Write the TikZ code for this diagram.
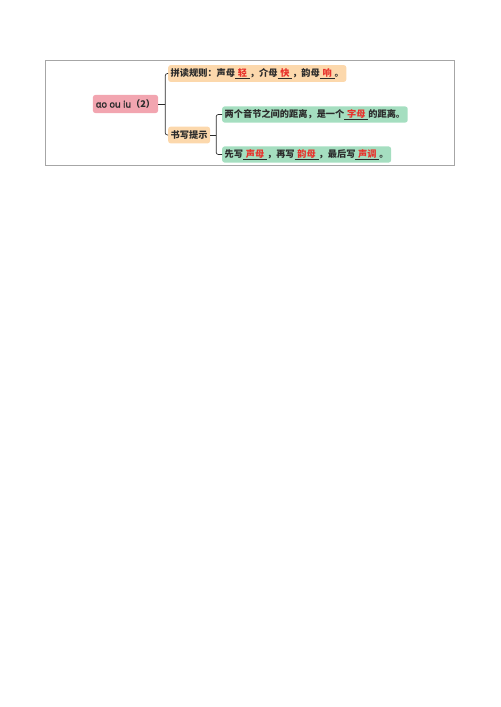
\documentclass[tikz,border=0pt]{standalone}
\usepackage{fontspec}
\usepackage{xcolor}
\usetikzlibrary{positioning}
\setmainfont{Noto Sans CJK SC}
\newfontfamily\latinfont{Noto Sans}[FakeBold=2]
\definecolor{rootpink}{HTML}{F2A5B0}
\definecolor{ruleorange}{HTML}{FCD8AC}
\definecolor{tipgreen}{HTML}{A5DEC0}
\definecolor{fillred}{HTML}{E8312B}
\definecolor{inkgray}{HTML}{2B2B2B}
\newcommand{\fillin}[1]{\underline{\hspace{0.3em}\textcolor{fillred}{#1}\hspace{0.3em}}}

\begin{document}
\begin{tikzpicture}[x=1.19bp, y=-1.19bp,
    every node/.style={font=\fontsize{11}{13}\selectfont\bfseries, text=inkgray},
    rootbox/.style={fill=rootpink, rounded corners=3bp, inner xsep=3.5bp, minimum height=21.5bp},
    rulebox/.style={fill=ruleorange, rounded corners=3bp, inner xsep=3bp, minimum height=20bp, anchor=west},
    tipbox/.style={fill=tipgreen, rounded corners=3bp, inner xsep=3bp, minimum height=18bp, anchor=west},
    link/.style={draw=inkgray, line width=0.8bp, rounded corners=2.5bp}]
        \useasboundingbox (0,0) rectangle (500,707);
        \draw[gray!70, line width=0.8bp] (45,60) rectangle (454,165);

        \node[rootbox]            (root)  at (125.5,104) {{\latinfont\bfseries ɑo ou iu}（2）};
        \node[rulebox]            (rules) at (168,73.5) {拼读规则：声母\fillin{轻}，介母\fillin{快}，韵母\fillin{响}。};
        \node[rulebox]            (tips)  at (168,135)  {书写提示};
        \node[tipbox]             (gap)   at (222,114.5) {两个音节之间的距离，是一个\fillin{字母}的距离。};
        \node[tipbox]             (order) at (222,154.5) {先写\fillin{声母}，再写\fillin{韵母}，最后写\fillin{声调}。};

        \draw[link] (root.east) -- ++(7,0) coordinate (j1);
        \draw[link] (j1) |- (rules.west);
        \draw[link] (j1) |- (tips.west);
        \draw[link] (tips.east) -- ++(6,0) coordinate (j2);
        \draw[link] (j2) |- (gap.west);
        \draw[link] (j2) |- (order.west);
\end{tikzpicture}
\end{document}
